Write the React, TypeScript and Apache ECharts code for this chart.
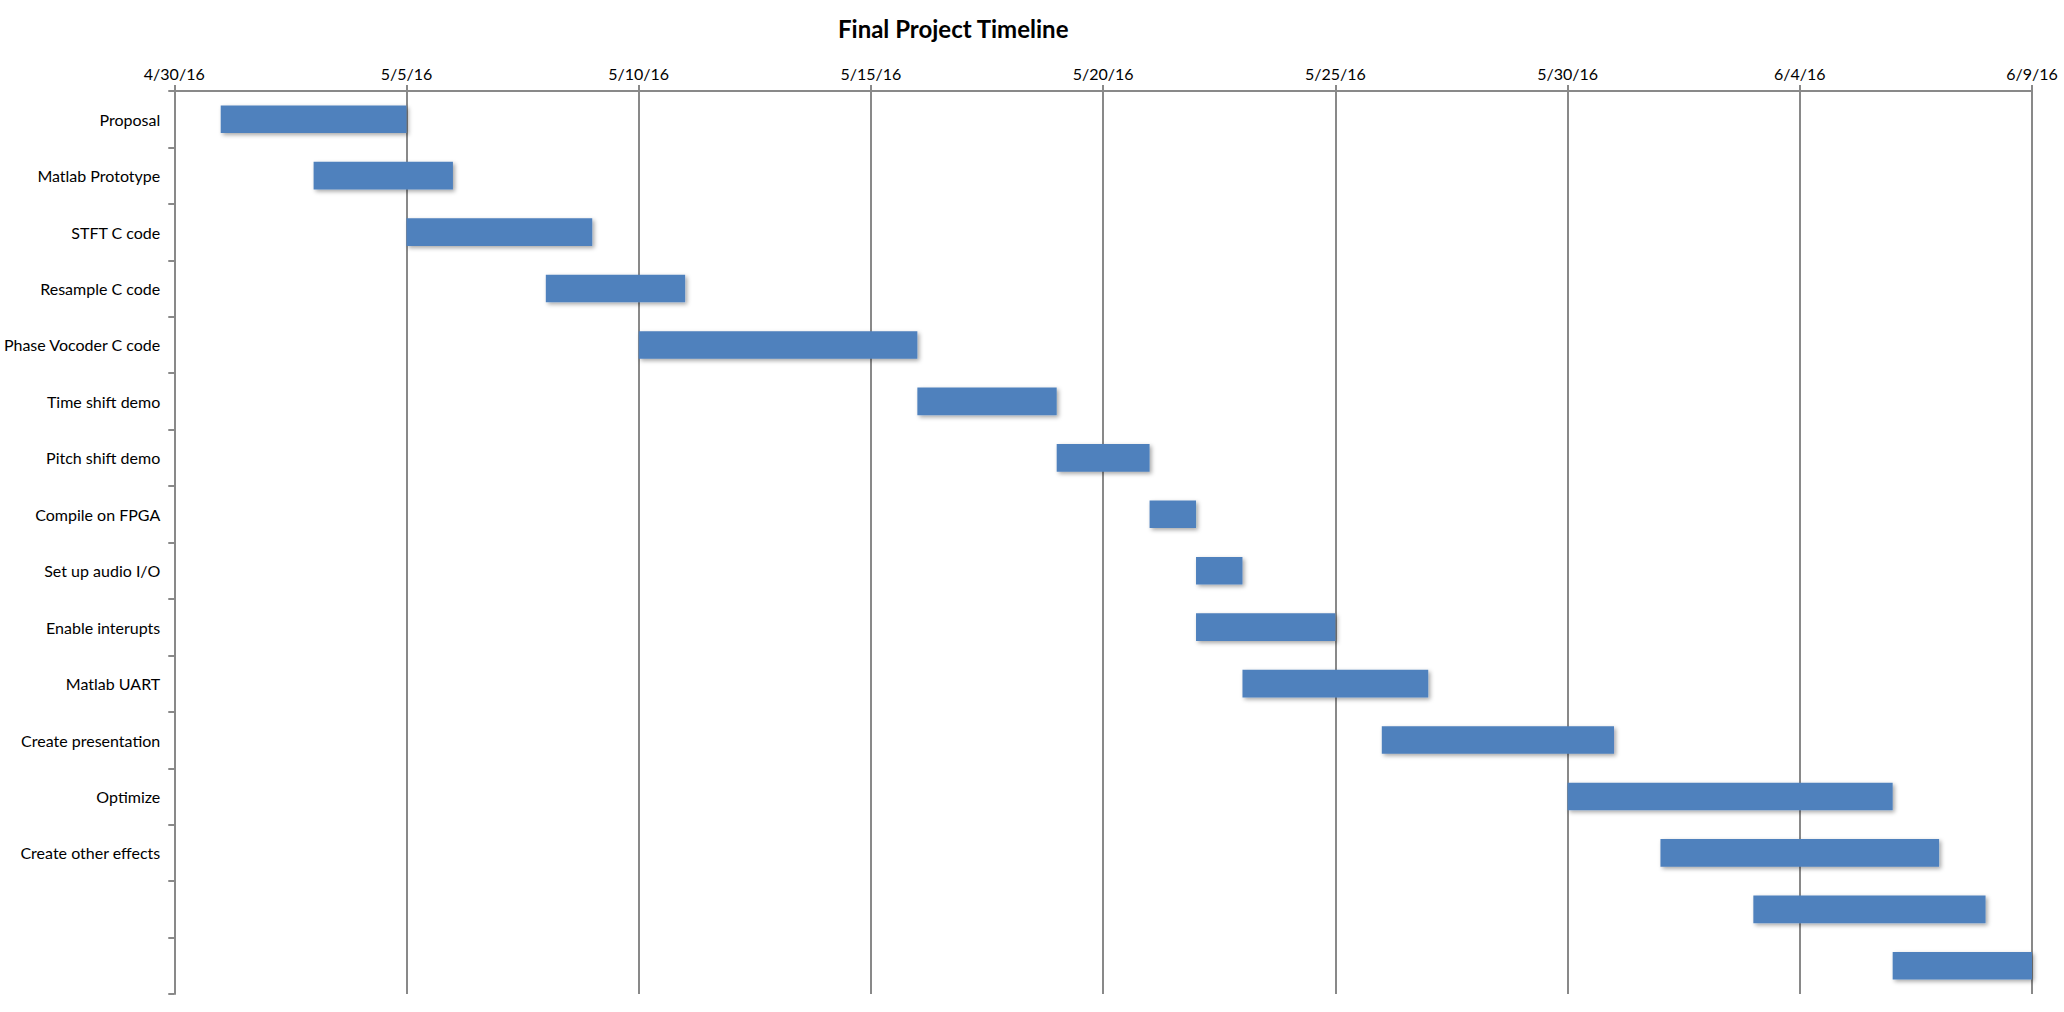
import React, { useEffect, useRef } from "react";
import * as echarts from "echarts";

const tasks = [
  "Proposal",
  "Matlab Prototype",
  "STFT C code",
  "Resample C code",
  "Phase Vocoder C code",
  "Time shift demo",
  "Pitch shift demo",
  "Compile on FPGA",
  "Set up audio I/O",
  "Enable interupts",
  "Matlab UART",
  "Create presentation",
  "Optimize",
  "Create other effects",
  "",
  " ",
];

const startDates = [
  "2016-05-01", "2016-05-03", "2016-05-05", "2016-05-08", "2016-05-10",
  "2016-05-16", "2016-05-19", "2016-05-21", "2016-05-22", "2016-05-22",
  "2016-05-23", "2016-05-26", "2016-05-30", "2016-06-01", "2016-06-03",
  "2016-06-06",
];

const endDates = [
  "2016-05-05", "2016-05-06", "2016-05-09", "2016-05-11", "2016-05-16",
  "2016-05-19", "2016-05-21", "2016-05-22", "2016-05-23", "2016-05-25",
  "2016-05-27", "2016-05-31", "2016-06-06", "2016-06-07", "2016-06-08",
  "2016-06-09",
];

const axisStart = "2016-04-30";
const tickLabels = ["4/30/16", "5/5/16", "5/10/16", "5/15/16", "5/20/16", "5/25/16", "5/30/16", "6/4/16", "6/9/16"];
const tickStepDays = 5;

const DAY = 86400000;
const dayOffset = (d: string) => Math.round((Date.parse(d) - Date.parse(axisStart)) / DAY);

export default function App() {
  const ref = useRef<HTMLDivElement>(null);
  useEffect(() => {
    if (!ref.current) return;
    const chart = echarts.init(ref.current, undefined, { renderer: "svg" });
    const starts = startDates.map(dayOffset);
    const durations = endDates.map((e, i) => dayOffset(e) - starts[i]);
    const gray = "#898989";
    const font = "Lato, 'Open Sans', sans-serif";
    chart.setOption({
      animation: false,
      backgroundColor: "#ffffff",
      title: {
        text: "Final Project Timeline",
        left: 833,
        top: 11,
        textStyle: { fontFamily: font, fontSize: 24, fontWeight: "bold", color: "#000" },
      },
      grid: { left: 172, right: 32, top: 91, bottom: 18, containLabel: false },
      xAxis: {
        type: "value",
        position: "top",
        min: 0,
        max: (tickLabels.length - 1) * tickStepDays,
        interval: tickStepDays,
        axisLine: { show: true, lineStyle: { color: gray, width: 2 } },
        axisTick: { show: true, length: 6, lineStyle: { color: gray, width: 2 } },
        splitLine: { show: true, lineStyle: { color: gray, width: 2 } },
        axisLabel: {
          margin: 10,
          fontFamily: font,
          fontSize: 16,
          color: "#000",
          formatter: (v: number) => tickLabels[Math.round(v / tickStepDays)] ?? "",
        },
      },
      yAxis: {
        type: "category",
        inverse: true,
        data: tasks,
        axisLine: { show: true, lineStyle: { color: gray, width: 2 } },
        axisTick: { show: true, length: 6, interval: 0, lineStyle: { color: gray, width: 2 } },
        splitLine: { show: false },
        axisLabel: { interval: 0, margin: 14, fontFamily: font, fontSize: 16, color: "#000" },
      },
      series: [
        {
          type: "bar",
          stack: "gantt",
          data: starts,
          barWidth: "49%",
          itemStyle: { color: "transparent" },
          silent: true,
        },
        {
          type: "bar",
          stack: "gantt",
          data: durations,
          barWidth: "49%",
          itemStyle: {
            color: "#4F81BD",
            shadowColor: "rgba(0,0,0,0.35)",
            shadowBlur: 4,
            shadowOffsetX: 2,
            shadowOffsetY: 2,
          },
        },
      ],
    });
    return () => chart.dispose();
  }, []);
  return (
    <div
      ref={ref}
      style={{ position: "fixed", left: 0, top: 0, width: 2064, height: 1012, background: "#fff" }}
    />
  );
}
